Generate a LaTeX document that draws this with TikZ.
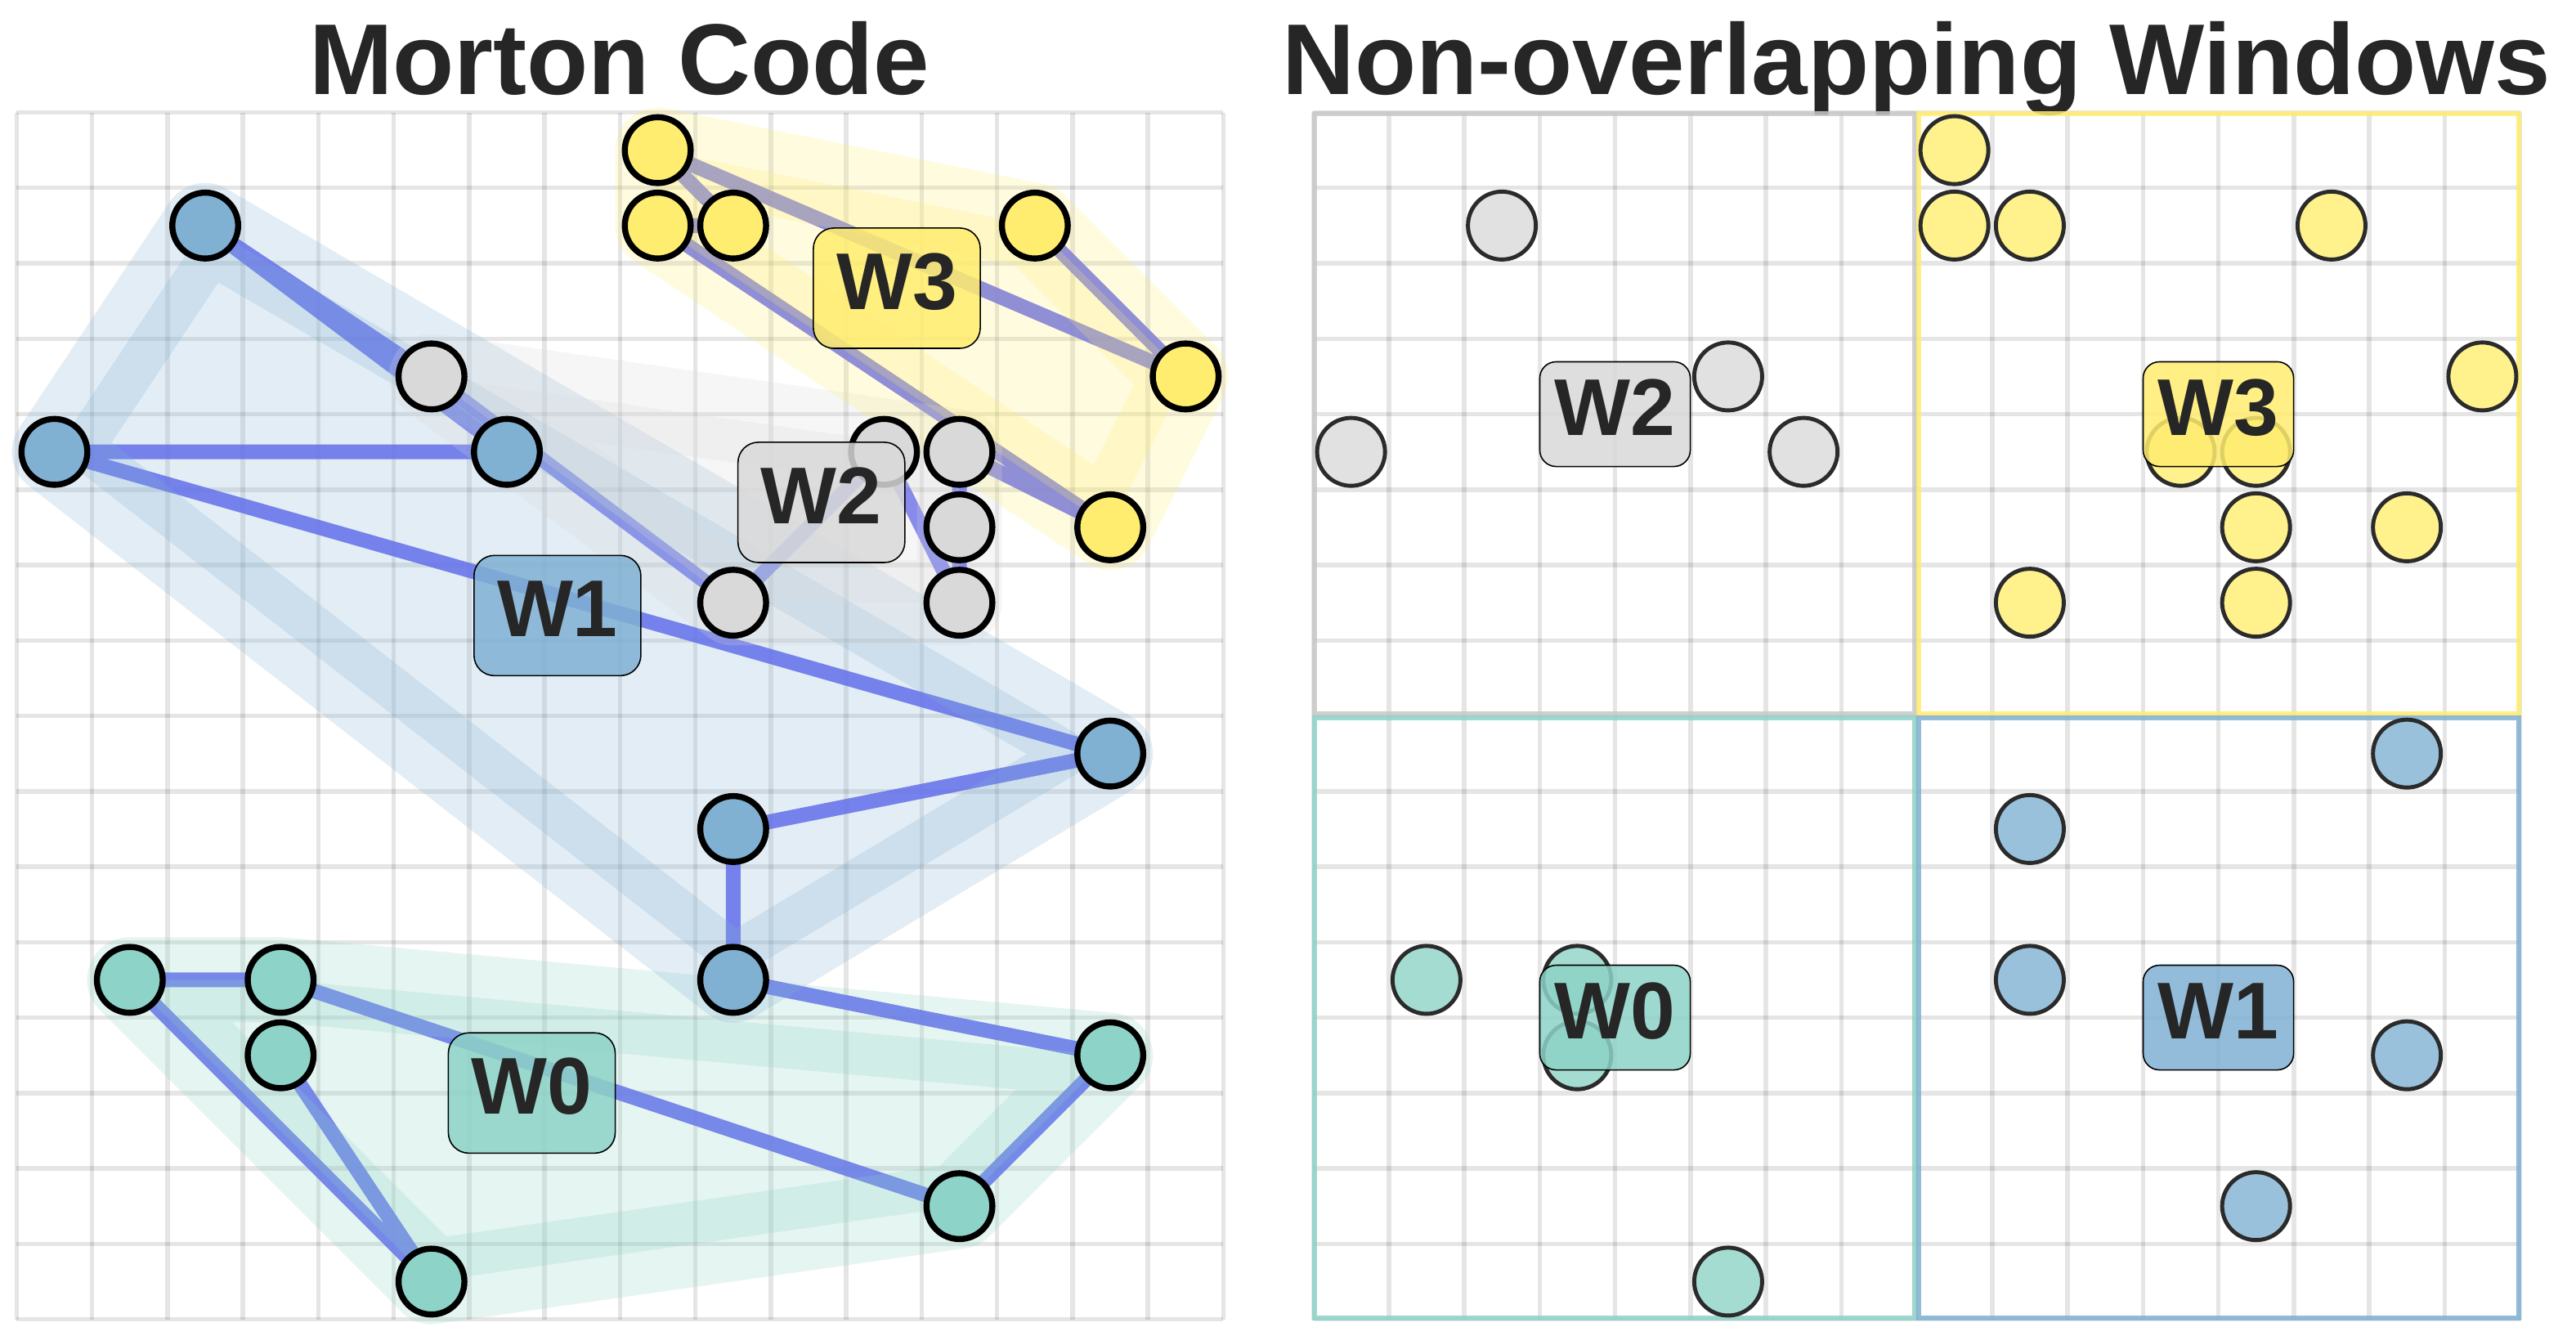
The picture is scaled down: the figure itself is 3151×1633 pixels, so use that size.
\documentclass[tikz,border=0pt]{standalone}
\usepackage{fontspec}
\setmainfont{Liberation Sans}
\definecolor{cteal}{HTML}{8DD3C7}
\definecolor{cblue}{HTML}{80B1D3}
\definecolor{cgrey}{HTML}{D9D9D9}
\definecolor{cyell}{HTML}{FFED6F}
\definecolor{cline}{HTML}{6366F1}
\definecolor{ctext}{HTML}{262626}
\definecolor{cedge}{HTML}{2B2B2B}
\pgfdeclarelayer{bglayer}
\pgfdeclarelayer{gridlayer}
\pgfdeclarelayer{linelayer}
\pgfdeclarelayer{hulllayer}
\pgfsetlayers{bglayer,gridlayer,linelayer,hulllayer,main}
\tikzset{
  lpt/.style={circle, draw=black, line width=2.1pt, minimum size=0.805cm, inner sep=0pt},
  rpt/.style={circle, draw=cedge, line width=1.4pt, minimum size=0.83cm, inner sep=0pt},
  gridline/.style={draw=black, draw opacity=0.1, line width=1.56pt},
  mline/.style={draw=cline, line width=5.1pt, draw opacity=0.9, line cap=round, line join=round},
  hullfill/.style={fill opacity=0.22},
  hullline/.style={draw opacity=0.22, line width=29.6pt, line join=round},
  llab/.style={rounded corners=0.25cm, draw=black, line width=0.45pt, fill opacity=0.85, text opacity=1,
    text=ctext, font=\fontsize{28}{30}\selectfont\bfseries, minimum width=2.04cm, minimum height=1.47cm,
    inner sep=0pt, text height=0.71cm, text depth=0.19cm},
  rlab/.style={rounded corners=0.2cm, draw=black, line width=0.45pt, fill opacity=0.85, text opacity=1,
    text=ctext, font=\fontsize{28}{30}\selectfont\bfseries, minimum width=1.84cm, minimum height=1.28cm,
    inner sep=0pt, text height=0.71cm, text depth=0.19cm},
  ttl/.style={text=ctext, font=\fontsize{35}{40}\selectfont\bfseries, anchor=base, inner sep=0pt},
  quad/.style={line width=1.7pt, draw opacity=0.85}
}
\begin{document}
\begin{tikzpicture}[x=0.01cm, y=-0.01cm]
\begin{pgfonlayer}{bglayer}
\fill[white] (0,0) rectangle (3151,1633);
\end{pgfonlayer}
\useasboundingbox (0,0) rectangle (3151,1633);

\node[ttl] (title1) at (757.5,115) {Morton Code};
\node[ttl] (title2) at (2344,115) {Non-overlapping Windows};

% ---------------- Left panel ----------------
\begin{scope}[shift={(20.4,137.5)}, x=0.922cm, y=-0.922cm]
\begin{pgfonlayer}{gridlayer}
\foreach \i in {0,...,16} {
  \draw[gridline] (\i,0) -- (\i,16);
  \draw[gridline] (0,\i) -- (16,\i);
}
\end{pgfonlayer}
% W1 blue
\node[lpt, fill=cblue] (lA) at (2.5,1.5) {};
\node[lpt, fill=cblue] (lB) at (0.5,4.5) {};
\node[lpt, fill=cblue] (lD) at (6.5,4.5) {};
\node[lpt, fill=cblue] (lP) at (14.5,8.5) {};
\node[lpt, fill=cblue] (lQ) at (9.5,9.5) {};
\node[lpt, fill=cblue] (lR) at (9.5,11.5) {};
% W2 grey
\node[lpt, fill=cgrey] (lC) at (5.5,3.5) {};
\node[lpt, fill=cgrey] (lJ) at (11.5,4.5) {};
\node[lpt, fill=cgrey] (lK) at (12.5,4.5) {};
\node[lpt, fill=cgrey] (lL) at (12.5,5.5) {};
\node[lpt, fill=cgrey] (lN) at (9.5,6.5) {};
\node[lpt, fill=cgrey] (lO) at (12.5,6.5) {};
% W3 yellow
\node[lpt, fill=cyell] (lE) at (8.5,0.5) {};
\node[lpt, fill=cyell] (lF) at (8.5,1.5) {};
\node[lpt, fill=cyell] (lG) at (9.5,1.5) {};
\node[lpt, fill=cyell] (lH) at (13.5,1.5) {};
\node[lpt, fill=cyell] (lI) at (15.5,3.5) {};
\node[lpt, fill=cyell] (lM) at (14.5,5.5) {};
% W0 teal
\node[lpt, fill=cteal] (lU) at (1.5,11.5) {};
\node[lpt, fill=cteal] (lV) at (3.5,11.5) {};
\node[lpt, fill=cteal] (lW) at (3.5,12.5) {};
\node[lpt, fill=cteal] (lX) at (5.5,15.5) {};
\node[lpt, fill=cteal] (lT) at (12.5,14.5) {};
\node[lpt, fill=cteal] (lS) at (14.5,12.5) {};

\begin{pgfonlayer}{linelayer}
\draw[mline] (lW) -- (lX) -- (lU) -- (lV) -- (lT) -- (lS) -- (lR) -- (lQ) -- (lP) -- (lB) -- (lD) -- (lA)
  -- (lC) -- (lN) -- (lJ) -- (lO) -- (lL) -- (lK) -- (lM) -- (lF) -- (lG) -- (lE) -- (lI) -- (lH);
\end{pgfonlayer}

\begin{pgfonlayer}{hulllayer}
\fill[cteal, hullfill] (lU.center) -- (lV.center) -- (lS.center) -- (lT.center) -- (lX.center) -- cycle;
\draw[cteal, hullline] (lU.center) -- (lV.center) -- (lS.center) -- (lT.center) -- (lX.center) -- cycle;
\fill[cblue, hullfill] (lA.center) -- (lP.center) -- (lR.center) -- (lB.center) -- cycle;
\draw[cblue, hullline] (lA.center) -- (lP.center) -- (lR.center) -- (lB.center) -- cycle;
\fill[cgrey, hullfill] (lC.center) -- (lK.center) -- (lO.center) -- (lN.center) -- cycle;
\draw[cgrey, hullline] (lC.center) -- (lK.center) -- (lO.center) -- (lN.center) -- cycle;
\fill[cyell, hullfill] (lE.center) -- (lH.center) -- (lI.center) -- (lM.center) -- (lF.center) -- cycle;
\draw[cyell, hullline] (lE.center) -- (lH.center) -- (lI.center) -- (lM.center) -- (lF.center) -- cycle;
\end{pgfonlayer}

\node[llab, fill=cteal] (lw0) at (6.83,13.0) {W0};
\node[llab, fill=cblue] (lw1) at (7.17,6.67) {W1};
\node[llab, fill=cgrey] (lw2) at (10.67,5.17) {W2};
\node[llab, fill=cyell] (lw3) at (11.67,2.33) {W3};
\end{scope}

% ---------------- Right panel ----------------
\begin{scope}[shift={(1606.5,137.5)}, x=0.922cm, y=-0.922cm]
\begin{pgfonlayer}{gridlayer}
\foreach \i in {0,...,16} {
  \draw[gridline] (\i,0) -- (\i,16);
  \draw[gridline] (0,\i) -- (16,\i);
}
\end{pgfonlayer}
\draw[quad, cgrey!92!black] (0.02,0.02) rectangle (7.97,7.97);
\draw[quad, cyell] (8.03,0.02) rectangle (15.98,7.97);
\draw[quad, cteal] (0.02,8.03) rectangle (7.97,15.98);
\draw[quad, cblue] (8.03,8.03) rectangle (15.98,15.98);

\node[rpt, fill=cgrey!80!white] (rA) at (2.5,1.5) {};
\node[rpt, fill=cgrey!80!white] (rB) at (0.5,4.5) {};
\node[rpt, fill=cgrey!80!white] (rC) at (5.5,3.5) {};
\node[rpt, fill=cgrey!80!white] (rD) at (6.5,4.5) {};
\node[rpt, fill=cyell!80!white] (rE) at (8.5,0.5) {};
\node[rpt, fill=cyell!80!white] (rF) at (8.5,1.5) {};
\node[rpt, fill=cyell!80!white] (rG) at (9.5,1.5) {};
\node[rpt, fill=cyell!80!white] (rH) at (13.5,1.5) {};
\node[rpt, fill=cyell!80!white] (rI) at (15.5,3.5) {};
\node[rpt, fill=cyell!80!white] (rJ) at (11.5,4.5) {};
\node[rpt, fill=cyell!80!white] (rK) at (12.5,4.5) {};
\node[rpt, fill=cyell!80!white] (rL) at (12.5,5.5) {};
\node[rpt, fill=cyell!80!white] (rM) at (14.5,5.5) {};
\node[rpt, fill=cyell!80!white] (rN) at (9.5,6.5) {};
\node[rpt, fill=cyell!80!white] (rO) at (12.5,6.5) {};
\node[rpt, fill=cblue!80!white] (rP) at (14.5,8.5) {};
\node[rpt, fill=cblue!80!white] (rQ) at (9.5,9.5) {};
\node[rpt, fill=cblue!80!white] (rR) at (9.5,11.5) {};
\node[rpt, fill=cblue!80!white] (rS) at (14.5,12.5) {};
\node[rpt, fill=cblue!80!white] (rT) at (12.5,14.5) {};
\node[rpt, fill=cteal!80!white] (rU) at (1.5,11.5) {};
\node[rpt, fill=cteal!80!white] (rV) at (3.5,11.5) {};
\node[rpt, fill=cteal!80!white] (rW) at (3.5,12.5) {};
\node[rpt, fill=cteal!80!white] (rX) at (5.5,15.5) {};

\node[rlab, fill=cteal] (rw0) at (4,12) {W0};
\node[rlab, fill=cblue] (rw1) at (12,12) {W1};
\node[rlab, fill=cgrey] (rw2) at (4,4) {W2};
\node[rlab, fill=cyell] (rw3) at (12,4) {W3};
\end{scope}
\end{tikzpicture}
\end{document}
